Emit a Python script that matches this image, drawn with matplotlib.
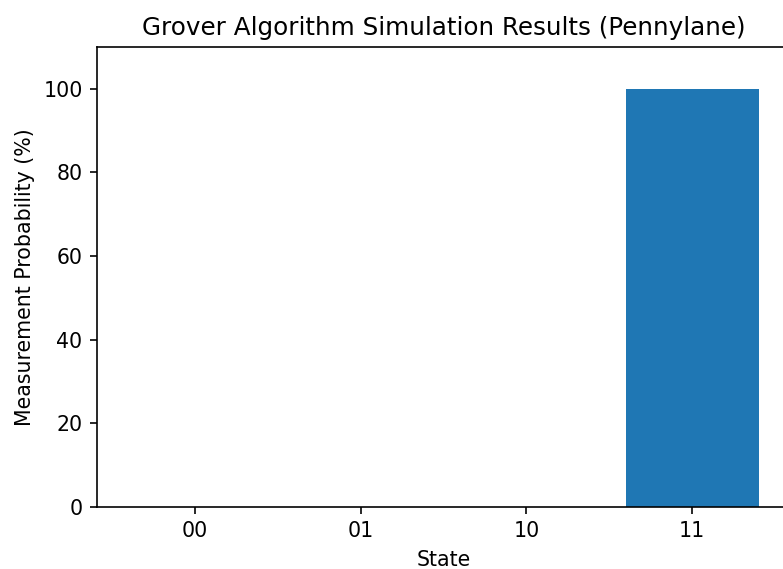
import matplotlib
matplotlib.use("Agg")
import matplotlib.pyplot as plt

states = ["00", "01", "10", "11"]
probabilities = [0, 0, 0, 100]

s = 1.48
plt.rcParams.update({
    "font.size": 10 * s,
    "axes.linewidth": 0.8 * s,
    "xtick.major.size": 3.5 * s,
    "ytick.major.size": 3.5 * s,
    "xtick.major.width": 0.8 * s,
    "ytick.major.width": 0.8 * s,
    "xtick.major.pad": 3.5 * s,
    "ytick.major.pad": 3.5 * s,
    "axes.titlepad": 6 * s,
    "axes.labelpad": 4 * s,
})

fig = plt.figure(figsize=(7.83, 5.69), dpi=100)
ax = fig.add_axes([97/783, (569-507)/569, (790-97)/783, (507-47)/569])
ax.bar(states, probabilities, color="#1f77b4")
ax.set_ylim(0, 110)
ax.set_title("Grover Algorithm Simulation Results (Pennylane)", fontsize=12 * s)
ax.set_xlabel("State")
ax.set_ylabel("Measurement Probability (%)")
fig.savefig("out.png", dpi=100)
